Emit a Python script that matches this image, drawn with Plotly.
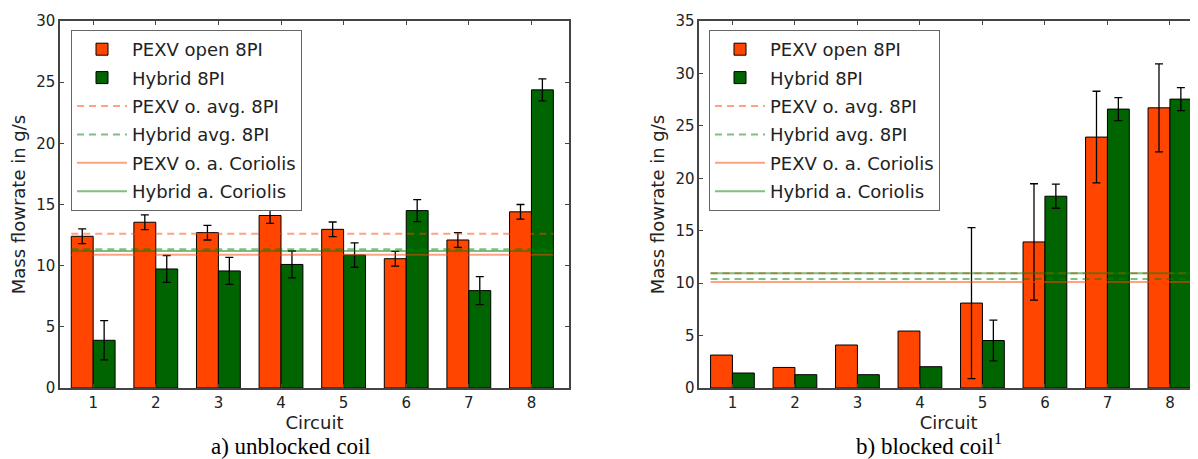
import plotly.graph_objects as go

circuits = [1, 2, 3, 4, 5, 6, 7, 8]

# a) unblocked coil
pexv_a = [12.4, 13.55, 12.7, 14.1, 12.97, 10.57, 12.1, 14.4]
pexv_a_err = [0.6, 0.6, 0.6, 0.65, 0.6, 0.6, 0.6, 0.6]
hyb_a = [3.9, 9.73, 9.57, 10.1, 10.87, 14.5, 7.96, 24.37]
hyb_a_err = [1.6, 1.1, 1.1, 1.1, 1.0, 0.9, 1.15, 0.9]
lines_a = {"PEXV o. avg. 8PI": 12.6, "Hybrid avg. 8PI": 11.34,
           "PEXV o. a. Coriolis": 10.9, "Hybrid a. Coriolis": 11.2}

# b) blocked coil (no error bars for circuits 1-4)
pexv_b = [3.14, 1.96, 4.1, 5.43, 8.1, 13.93, 23.93, 26.72]
pexv_b_err = [None, None, None, None, 7.2, 5.55, 4.37, 4.2]
hyb_b = [1.43, 1.27, 1.27, 2.03, 4.53, 18.29, 26.6, 27.55]
hyb_b_err = [None, None, None, None, 1.95, 1.15, 1.1, 1.1]
lines_b = {"PEXV o. avg. 8PI": 10.95, "Hybrid avg. 8PI": 10.4,
           "PEXV o. a. Coriolis": 10.1, "Hybrid a. Coriolis": 10.95}

BAR_W = 0.35
line_x = [0.65, 8.35]
ORANGE = "#ff4500"
GREEN = "#006400"
line_style = {
    "PEXV o. avg. 8PI": ("rgba(255,69,0,0.5)", "7px,5px"),
    "Hybrid avg. 8PI": ("rgba(0,128,0,0.5)", "7px,5px"),
    "PEXV o. a. Coriolis": ("rgba(255,69,0,0.5)", "solid"),
    "Hybrid a. Coriolis": ("rgba(0,128,0,0.5)", "solid"),
}

fig = go.Figure()


def err_trace(xa, ya, shift, vals, errs):
    xs, ys, es = [], [], []
    for c, v, e in zip(circuits, vals, errs):
        if e is not None:
            xs.append(c + shift)
            ys.append(v)
            es.append(e)
    return go.Scatter(x=xs, y=ys, mode="markers", marker=dict(opacity=0, size=1),
                      error_y=dict(type="data", array=es, color="black",
                                   thickness=1.3, width=4),
                      xaxis=xa, yaxis=ya, showlegend=False, hoverinfo="skip")


def add_panel(xa, ya, leg, pexv, pexv_err, hyb, hyb_err, lines):
    fig.add_trace(go.Bar(
        x=circuits, y=pexv, name="PEXV open 8PI", offset=-BAR_W, width=BAR_W,
        marker=dict(color=ORANGE, line=dict(color="black", width=1)),
        xaxis=xa, yaxis=ya, legend=leg, legendgroup=leg + "a"))
    fig.add_trace(go.Bar(
        x=circuits, y=hyb, name="Hybrid 8PI", offset=0, width=BAR_W,
        marker=dict(color=GREEN, line=dict(color="black", width=1)),
        xaxis=xa, yaxis=ya, legend=leg, legendgroup=leg + "b"))
    fig.add_trace(err_trace(xa, ya, -BAR_W / 2, pexv, pexv_err))
    fig.add_trace(err_trace(xa, ya, BAR_W / 2, hyb, hyb_err))
    for i, (name, val) in enumerate(lines.items()):
        col, dash = line_style[name]
        fig.add_trace(go.Scatter(
            x=line_x, y=[val, val], mode="lines", name=name,
            line=dict(color=col, width=2, dash=dash), hoverinfo="skip",
            xaxis=xa, yaxis=ya, legend=leg, legendgroup=leg + "l" + str(i)))


add_panel("x", "y", "legend", pexv_a, pexv_a_err, hyb_a, hyb_a_err, lines_a)
add_panel("x2", "y2", "legend2", pexv_b, pexv_b_err, hyb_b, hyb_b_err, lines_b)

# page has an 8px body margin: figure is placed at (8, 8)
OFF = 8
W, H = 1198 - OFF, 459 - OFF


def px(x):
    return (x - OFF) / W


def py(y):
    return 1 - (y - OFF) / H


tickfont = dict(family="DejaVu Sans", size=15, color="#222")
titlefont = dict(family="DejaVu Sans", size=18, color="#222")
ydom = [py(388), py(21)]

axis_common = dict(showline=True, linecolor="#444", linewidth=1.5, ticks="inside",
                   ticklen=4, tickwidth=1, tickcolor="#444", showgrid=False,
                   zeroline=False, tickfont=tickfont, automargin=False)

legend_common = dict(font=dict(family="DejaVu Sans", size=18, color="#222"),
                     bgcolor="white", bordercolor="#666", borderwidth=1,
                     xanchor="left", yanchor="top", itemwidth=50,
                     tracegroupgap=2, traceorder="grouped")

x2_left = 699.3
fig.update_layout(
    width=W, height=H,
    margin=dict(l=0, r=0, t=0, b=0, pad=0),
    paper_bgcolor="white", plot_bgcolor="white",
    barmode="overlay",
    xaxis=dict(domain=[px(60), px(569)], range=[0.47, 8.6], tickvals=circuits,
               mirror="allticks", anchor="y",
               title=dict(text="Circuit", font=titlefont, standoff=0), **axis_common),
    yaxis=dict(domain=ydom, range=[0, 30], dtick=5, mirror="allticks", anchor="x",
               title=dict(text="Mass flowrate in g/s", font=titlefont, standoff=6),
               **axis_common),
    xaxis2=dict(domain=[px(x2_left), 1], range=[0.47, 0.47 + (1198 - x2_left) / 62.5],
                tickvals=circuits, mirror="allticks", anchor="y2",
                title=dict(text="Circuit", font=titlefont, standoff=0), **axis_common),
    yaxis2=dict(domain=ydom, range=[0, 35], dtick=5, mirror=False, anchor="x2",
                title=dict(text="Mass flowrate in g/s", font=titlefont, standoff=6),
                **axis_common),
    legend=dict(x=px(71), y=py(30), **legend_common),
    legend2=dict(x=px(709), y=py(30), **legend_common),
    showlegend=True,
    annotations=[
        dict(text="a) unblocked coil", x=px(291), y=py(446), xref="paper", yref="paper",
             xanchor="center", yanchor="middle", showarrow=False,
             font=dict(family="Liberation Serif", size=23, color="black")),
        dict(text="b) blocked coil<sup>1</sup>", x=px(929), y=py(444), xref="paper",
             yref="paper", xanchor="center", yanchor="middle", showarrow=False,
             font=dict(family="Liberation Serif", size=23, color="black")),
    ],
)

fig.write_html("out.html")
